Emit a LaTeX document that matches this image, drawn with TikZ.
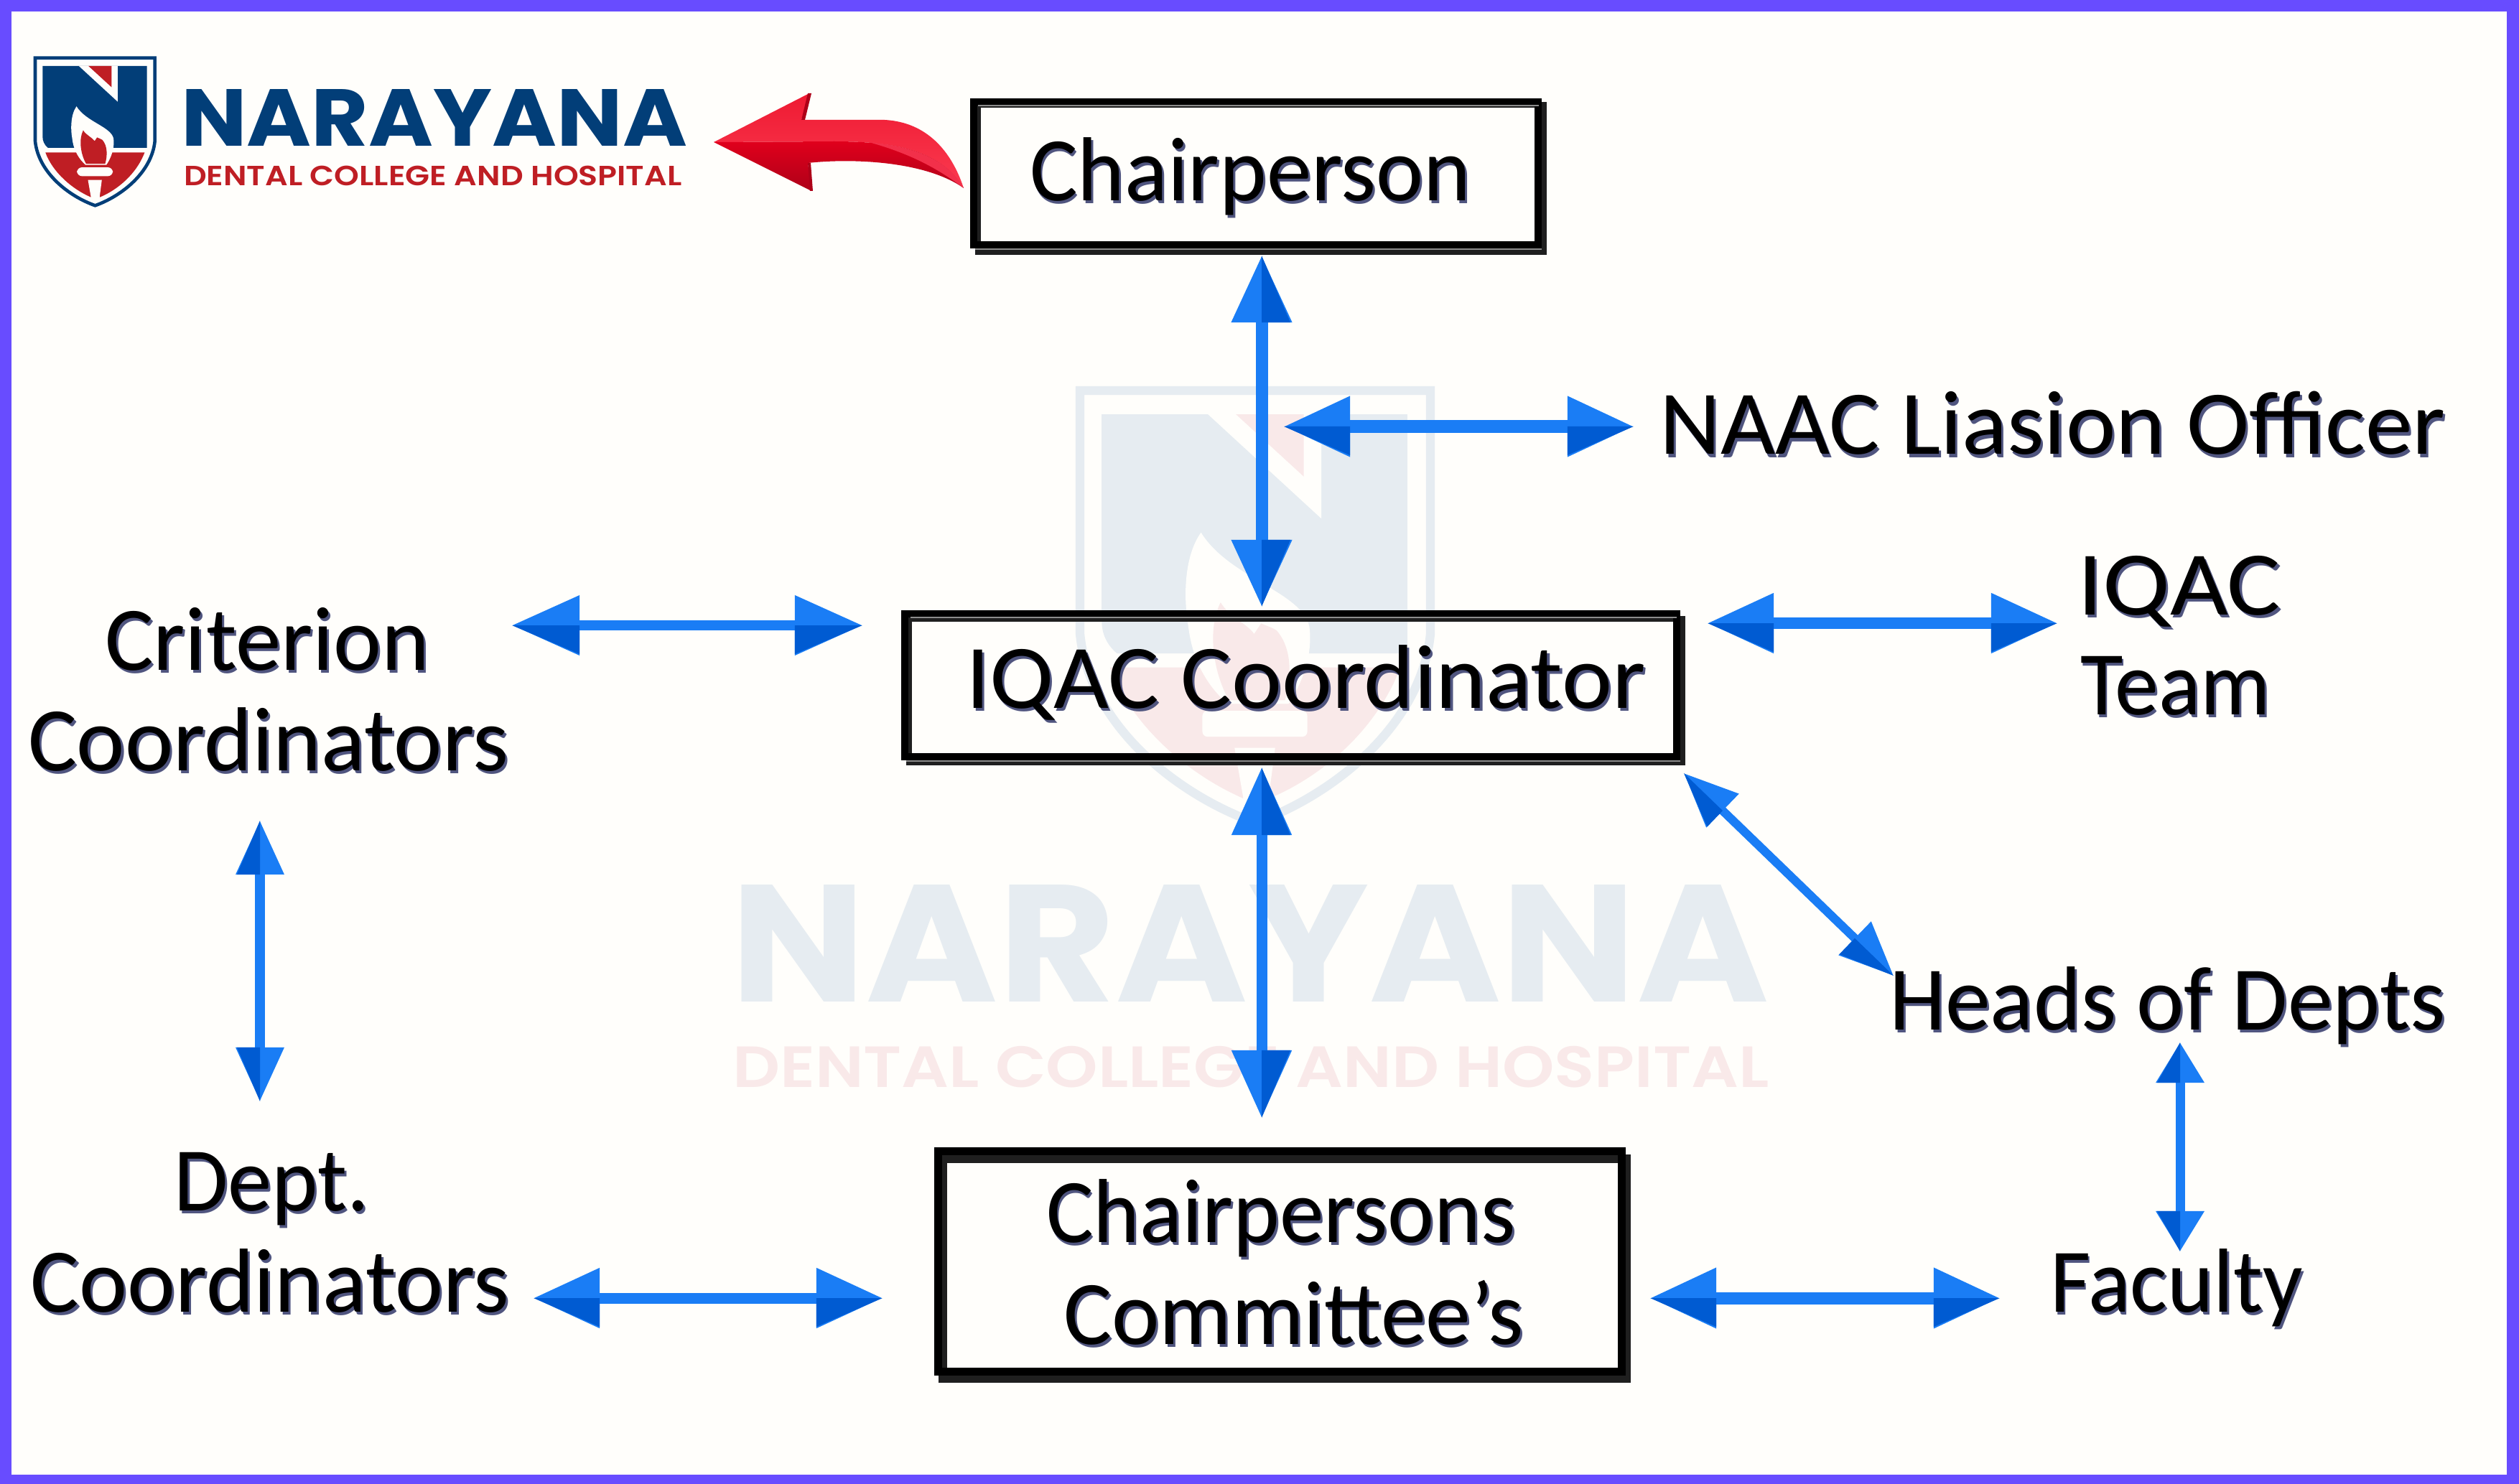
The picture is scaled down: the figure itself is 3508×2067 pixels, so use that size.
\documentclass[tikz,border=0pt]{standalone}
\usepackage{fontspec}
\usepackage{graphicx}
\usetikzlibrary{calc,arrows.meta}
\newfontfamily\labelfont{Carlito}
\newfontfamily\logofont{Poppins}
\newfontfamily\logosemi{Poppins SemiBold}
\definecolor{frameviolet}{HTML}{684CFF}
\definecolor{paper}{HTML}{FFFEFB}
\definecolor{arrowlight}{HTML}{1A7DF5}
\definecolor{arrowdark}{HTML}{005BD2}
\definecolor{navy}{HTML}{023E78}
\definecolor{logored}{HTML}{BF1E24}
\definecolor{wmblue}{HTML}{E6ECF1}
\definecolor{wmred}{HTML}{F9E9E9}
\definecolor{txshadow}{HTML}{50557F}
\definecolor{redtop}{HTML}{EE1A32}
\definecolor{redmid}{HTML}{FB3A50}
\definecolor{redlow}{HTML}{E0001C}
\definecolor{reddeep}{HTML}{AE0018}
\definecolor{redpink}{HTML}{F2304A}
\newcommand{\fw}[2]{\resizebox{#1}{\height}{\rlap{\color{txshadow}\kern0.03cm\raisebox{-0.04cm}{#2}}#2}}
\newcommand{\plainfw}[2]{\resizebox{#1}{\height}{#2}}
\newcommand{\twolines}[3]{\vtop{\baselineskip=#3\relax\lineskiplimit=-1000pt\lineskip=0pt\halign{##\hfil\cr #1\cr #2\cr}}}
\newcommand{\dbl}[6]{%
  \draw[conn,line width=#5,{Triangle[length=#3,width=2*#4]}-{Triangle[length=#3,width=2*#4]}] (#1) -- (#2);
  \fill[arrowdark] (#1) -- ($(#1)!#3!(#2)$) -- ($($(#1)!#3!(#2)$)!#4!#6:(#1)$) -- cycle;
  \fill[arrowdark] (#2) -- ($(#2)!#3!(#1)$) -- ($($(#2)!#3!(#1)$)!#4!-#6:(#2)$) -- cycle;
}
\newcommand{\shieldlogo}[6]{%
  \begin{scope}[shift={(#1,#2)},x=#3,y=-#3]
    \draw[line width=#4,line join=miter,#5] (57,62) -- (558,62) -- (558,410) .. controls (545,540) and (420,640) .. (308,680) .. controls (195,640) and (70,540) .. (57,410) -- cycle;
    \fill[#5] (88,96) -- (525,96) -- (525,438) -- (110,438) .. controls (95,425) and (88,410) .. (88,390) -- cycle;
    \fill[paper] (240,96) -- (402,96) -- (402,245) -- cycle;
    \fill[#6] (280,96) -- (377,96) -- (377,185) -- cycle;
    \fill[#6] (100,458) -- (515,458) .. controls (480,550) and (400,615) .. (328,645) -- (308,600) -- (290,645) .. controls (210,610) and (130,540) .. (100,458) -- cycle;
    \fill[paper] (230,265) .. controls (205,300) and (205,360) .. (212,400) .. controls (218,450) and (240,485) .. (268,510) -- (355,510) .. controls (375,480) and (390,440) .. (385,400) .. controls (375,350) and (270,330) .. (230,265) -- cycle;
    \fill[#6] (258,365) .. controls (240,400) and (245,460) .. (270,505) -- (350,505) .. controls (360,470) and (360,430) .. (338,405) .. controls (330,400) and (322,398) .. (316,395) -- (306,410) .. controls (295,395) and (270,385) .. (258,365) -- cycle;
    \fill[paper,rounded corners=2] (232,520) rectangle (382,557);
    \fill[paper] (278,573) -- (336,573) -- (324,665) -- (294,665) -- cycle;
  \end{scope}
}
\tikzset{
  tx/.style={inner sep=0pt,outer sep=0pt,anchor=base west,text=black,font=\labelfont\fontsize{36}{40}\selectfont},
  frame/.style={draw=black,inner sep=0pt,rectangle},
  frameshadow/.style={draw=black!88},
  framegap/.style={draw=black!45,line width=0.02cm},
  conn/.style={draw=arrowlight,fill=arrowlight,arrowlight},
  wm/.style={inner sep=0pt,outer sep=0pt,anchor=base west},
}
\begin{document}
\begin{tikzpicture}[x=0.01cm,y=-0.01cm]
\useasboundingbox (0,0) rectangle (3508,2067);
\fill[frameviolet] (0,0) rectangle (3508,2067);
\fill[paper] (16,16) rectangle (3491,2054);

% watermark
\shieldlogo{1448.5}{483.6}{0.00974cm}{3.5pt}{wmblue}{wmred}
\node[wm,text=wmblue] (wmname) at (1017,1395) {\plainfw{14.46cm}{\logofont\bfseries\fontsize{66}{70}\selectfont NARAYANA}};
\node[wm,text=wmred] (wmsub) at (1020,1514) {\plainfw{14.43cm}{\logosemi\fontsize{23}{26}\selectfont DENTAL COLLEGE AND HOSPITAL}};

% logo
\shieldlogo{30}{60}{0.00333cm}{1.3pt}{navy}{logored}
\node[wm,text=navy] (logoname) at (252,204) {\plainfw{7.05cm}{\logofont\bfseries\fontsize{32}{36}\selectfont NARAYANA}};
\node[wm,text=logored] (logosub) at (256,259) {\plainfw{6.93cm}{\logosemi\fontsize{11}{13}\selectfont DENTAL COLLEGE AND HOSPITAL}};

% red arrow
\shade[top color=redtop,bottom color=redmid]
  (994,198) -- (1127,130) -- (1116,167) -- (1232,167) .. controls (1290,170) and (1325,210) .. (1342,262) .. controls (1310,210) and (1250,197) .. (1161,197) -- cycle;
\shade[top color=redlow,bottom color=reddeep]
  (994,198) -- (1130,266) -- (1125,227) .. controls (1190,220) and (1290,225) .. (1342,262) .. controls (1310,210) and (1250,197) .. (1161,197) -- cycle;
\fill[redpink] (1342,262) .. controls (1320,225) and (1280,205) .. (1210,198) .. controls (1260,212) and (1300,230) .. (1342,262) -- cycle;
\fill[reddeep] (1125,130) -- (1130,130) -- (1121,167) -- (1116,167) -- cycle;
\fill[reddeep] (1125,227) -- (1129,227) -- (1132,266) -- (1128,266) -- cycle;

% boxes
\draw[frameshadow,line width=8*0.01cm] (1362,146) rectangle (2150,351);
\node[frame,line width=0.10cm,minimum width=7.86cm,minimum height=1.99cm] (chairbox) at (1749,241.5) {};
\draw[framegap] (1362,147) -- (2143,147);
\draw[framegap] (1358,347) -- (2147,347);
\draw[frameshadow,line width=8*0.01cm] (1266,862) rectangle (2343,1062);
\node[frame,line width=0.10cm,minimum width=10.75cm,minimum height=1.99cm] (iqacbox) at (1797.5,954.5) {};
\draw[framegap] (1268,860) -- (2335,860);
\draw[framegap] (1262,1060) -- (2340,1060);
\draw[frameshadow,line width=12*0.01cm] (1313,1614) rectangle (2265,1920);
\node[frame,line width=0.11cm,minimum width=9.52cm,minimum height=3.07cm] (commbox) at (1782.5,1757) {};

% labels
\node[tx] (chair) at (1434,280) {\fw{6.14cm}{Chairperson}};
\node[tx] (iqac) at (1345,986) {\fw{9.46cm}{IQAC Coordinator}};
\node[tx] (comm) at (1457,1730) {\twolines{\fw{6.53cm}{Chairpersons}}{\kern0.24cm\fw{6.40cm}{Committee’s}}{1.42cm}};
\node[tx] (naac) at (2311,633) {\fw{10.94cm}{NAAC Liasion Officer}};
\node[tx] (team) at (2893,856) {\twolines{\fw{2.83cm}{IQAC}}{\kern0.04cm\fw{2.65cm}{Team}}{1.39cm}};
\node[tx] (heads) at (2631,1434) {\fw{7.74cm}{Heads of Depts}};
\node[tx] (faculty) at (2855,1827) {\fw{3.52cm}{Faculty}};
\node[tx] (crit) at (39,933) {\twolines{\kern1.07cm\fw{4.52cm}{Criterion}}{\fw{6.69cm}{Coordinators}}{1.40cm}};
\node[tx] (dept) at (43,1686) {\twolines{\kern1.99cm\fw{2.72cm}{Dept.}}{\fw{6.66cm}{Coordinators}}{1.41cm}};

% connector ends
\coordinate (a1) at (1757,356);  \coordinate (b1) at (1757,845);
\coordinate (a2) at (1788,594);  \coordinate (b2) at (2275,594);
\coordinate (a3) at (2378,868);  \coordinate (b3) at (2865,868);
\coordinate (a4) at (713,871);   \coordinate (b4) at (1201,871);
\coordinate (a5) at (1757,1069); \coordinate (b5) at (1757,1557);
\coordinate (a6) at (2345,1077); \coordinate (b6) at (2637,1359);
\coordinate (a7) at (3036,1452); \coordinate (b7) at (3036,1743);
\coordinate (a8) at (362,1143);  \coordinate (b8) at (362,1534);
\coordinate (a9) at (743,1808);  \coordinate (b9) at (1229,1808);
\coordinate (a10) at (2298,1808);\coordinate (b10) at (2785,1808);

\dbl{a1}{b1}{0.93cm}{0.40cm}{0.17cm}{-90}
\dbl{a2}{b2}{0.92cm}{0.40cm}{0.17cm}{90}
\dbl{a3}{b3}{0.92cm}{0.40cm}{0.15cm}{90}
\dbl{a4}{b4}{0.94cm}{0.40cm}{0.14cm}{90}
\dbl{a5}{b5}{0.94cm}{0.40cm}{0.15cm}{-90}
\dbl{a6}{b6}{0.75cm}{0.31cm}{0.12cm}{90}
\dbl{a7}{b7}{0.56cm}{0.32cm}{0.13cm}{90}
\dbl{a8}{b8}{0.75cm}{0.32cm}{0.13cm}{90}
\dbl{a9}{b9}{0.92cm}{0.40cm}{0.15cm}{90}
\dbl{a10}{b10}{0.92cm}{0.40cm}{0.17cm}{90}
\end{tikzpicture}
\end{document}
